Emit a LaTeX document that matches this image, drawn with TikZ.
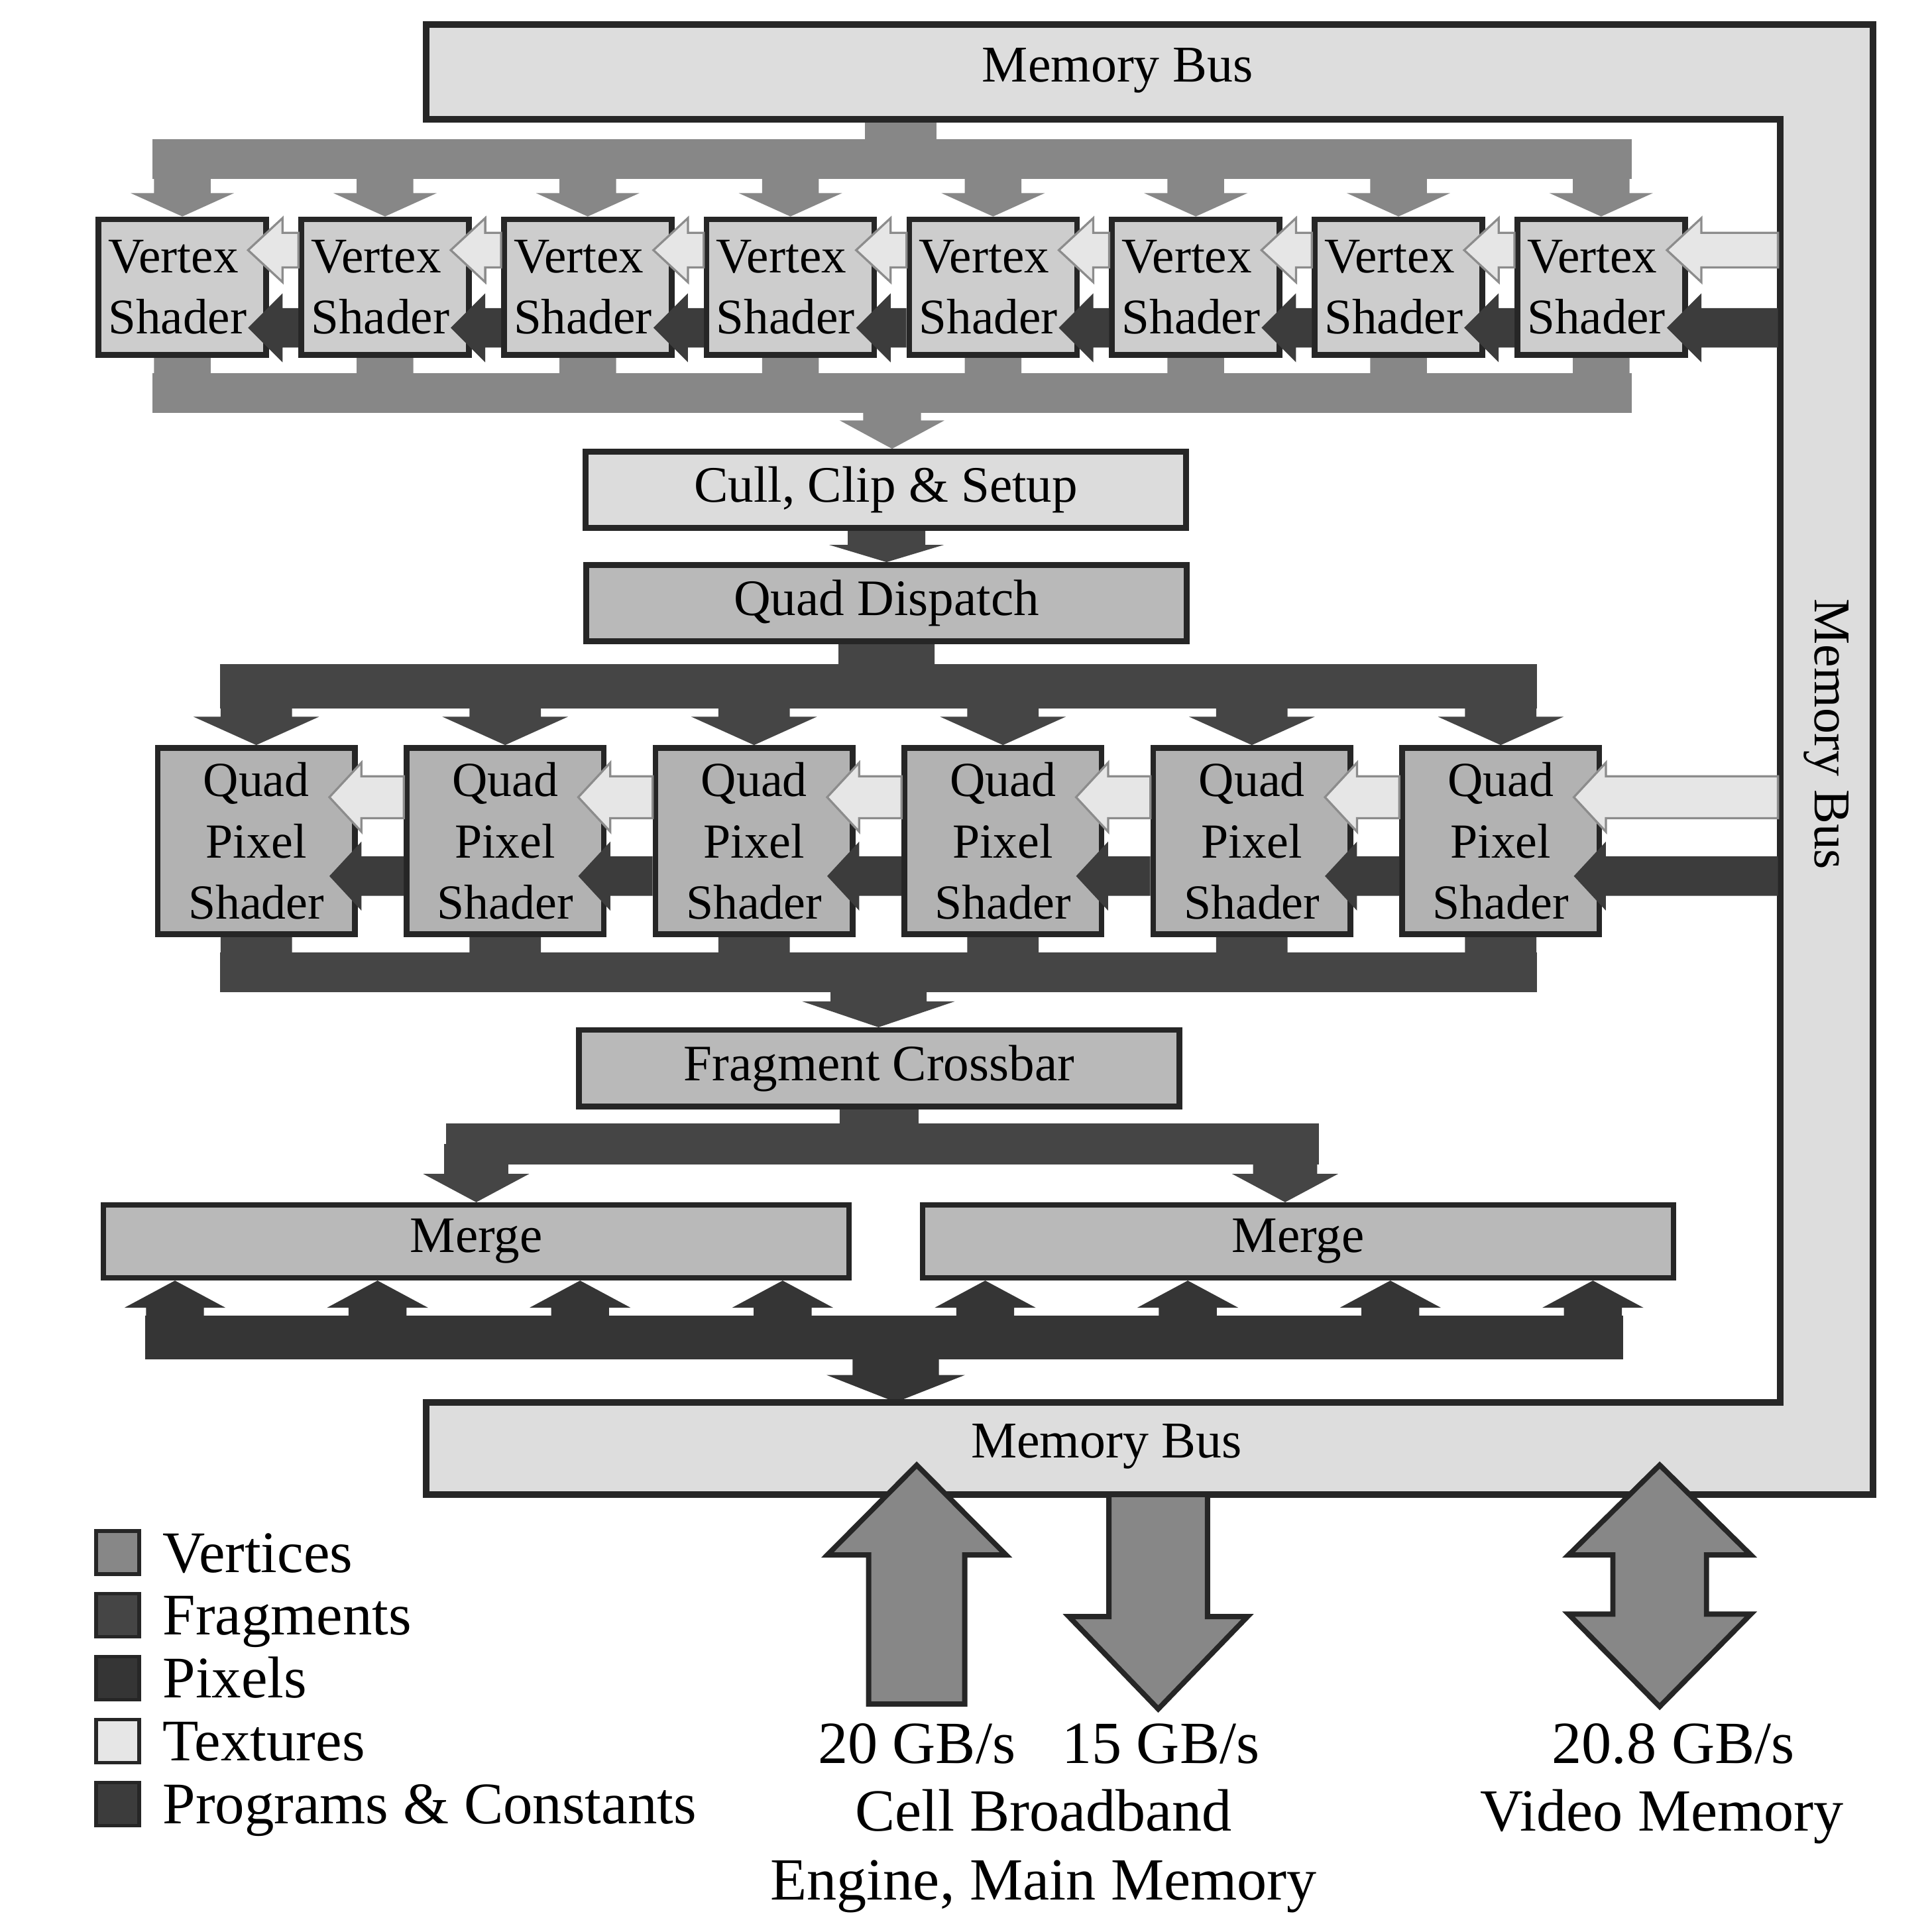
\documentclass[tikz,border=0pt]{standalone}
\usepackage{fontspec}
\setmainfont{Liberation Serif}
\usetikzlibrary{calc,positioning,backgrounds}

\definecolor{vertices}{HTML}{878787}
\definecolor{fragments}{HTML}{454545}
\definecolor{pixels}{HTML}{353535}
\definecolor{textures}{HTML}{E6E6E6}
\definecolor{programs}{HTML}{3C3C3C}
\definecolor{edge}{HTML}{262626}
\definecolor{busfill}{HTML}{DDDDDD}
\definecolor{vsfill}{HTML}{CDCDCD}
\definecolor{qsfill}{HTML}{B2B2B2}
\definecolor{cullfill}{HTML}{DCDCDC}
\definecolor{unitfill}{HTML}{B9B9B9}

% block arrows: [style]{tail}{tip}{shaft half}{head half}{head length}
\newcommand{\hblock}[6][]{%
  \path[#1] let \p1=(#2), \p2=(#3), \n1={sign(\x1-\x2)} in
    ({\x1},{\y2+#4*0.01cm}) -- ({\x2+(\n1)*#6*0.01cm},{\y2+#4*0.01cm})
    -- ({\x2+(\n1)*#6*0.01cm},{\y2+#5*0.01cm}) -- (\x2,\y2)
    -- ({\x2+(\n1)*#6*0.01cm},{\y2-#5*0.01cm}) -- ({\x2+(\n1)*#6*0.01cm},{\y2-#4*0.01cm})
    -- ({\x1},{\y2-#4*0.01cm}) -- cycle;}
\newcommand{\vblock}[6][]{%
  \path[#1] let \p1=(#2), \p2=(#3), \n1={sign(\y1-\y2)} in
    ({\x2+#4*0.01cm},{\y1}) -- ({\x2+#4*0.01cm},{\y2+(\n1)*#6*0.01cm})
    -- ({\x2+#5*0.01cm},{\y2+(\n1)*#6*0.01cm}) -- (\x2,\y2)
    -- ({\x2-#5*0.01cm},{\y2+(\n1)*#6*0.01cm}) -- ({\x2-#4*0.01cm},{\y2+(\n1)*#6*0.01cm})
    -- ({\x2-#4*0.01cm},{\y1}) -- cycle;}

\begin{document}
\begin{tikzpicture}[
    x=0.01cm, y=-0.01cm,
    unit/.style={draw=edge, line width=1.3pt, fill=unitfill, inner sep=0pt,
                 font=\fontsize{11.8}{14.2}\selectfont},
    vshader/.style={unit, fill=vsfill, minimum width=1.36cm, minimum height=1.10cm,
                    text width=1.2cm, align=left, inner xsep=0.08cm,
                    font=\fontsize{11.5}{14.2}\selectfont},
    qshader/.style={unit, fill=qsfill, minimum width=1.60cm, minimum height=1.51cm, align=center,
                    font=\fontsize{11.3}{14.2}\selectfont},
    wide/.style={unit, minimum width=4.87cm, minimum height=0.62cm},
    busbar/.style={inner sep=0pt, outer sep=0pt, draw=none},
    tex/.style={fill=textures, draw=black!45, line width=0.5pt},
    prog/.style={fill=programs},
    lbl/.style={inner sep=0pt, font=\fontsize{11.9}{14}\selectfont},
    legbox/.style={draw=edge, line width=0.8pt, minimum size=0.35cm, inner sep=0pt},
    legtext/.style={inner sep=0pt, font=\fontsize{13.6}{15}\selectfont},
    rate/.style={inner sep=0pt, font=\fontsize{13.8}{15.7}\selectfont},
    bigarrow/.style={fill=vertices, draw=edge, line width=1.2pt, line join=miter}
]
\useasboundingbox (0,0) rectangle (1568,1568);

% Memory bus
\filldraw[fill=busfill, draw=edge, line width=1.5pt]
  (346,20) -- (1520,20) -- (1520,1213) -- (346,1213) -- (346,1138)
  -- (1445,1138) -- (1445,97) -- (346,97) -- cycle;
\node[lbl] (mbtop) at (907,57) {Memory Bus};
\node[lbl] (mbbot) at (898,1174) {Memory Bus};
\node[lbl, rotate=-90] (mbside) at (1482,596) {Memory Bus};
\coordinate (mbin) at (1443,0);
\coordinate (mbtopin) at (731,97);
\coordinate (mbbotin) at (727,1138);

% Vertex shaders
\foreach \i in {1,...,8}
  \node[vshader] (vs\i) at ({148+164.5*(\i-1)},233) {Vertex\\Shader};

% Setup units
\node[wide, fill=cullfill] (cull) at (719,397.5) {Cull, Clip \& Setup};
\node[wide] (qdisp) at (719.5,489.5) {Quad Dispatch};

% Quad pixel shaders
\foreach \i in {1,...,6}
  \node[qshader] (qs\i) at ({208+202*(\i-1)},682.5) {Quad\\Pixel\\Shader};

% Crossbar and merge units
\node[wide] (xbar) at (713.5,867) {Fragment Crossbar};
\node[unit, minimum width=6.05cm, minimum height=0.59cm] (mg1) at (386.5,1007.5) {Merge};
\node[unit, minimum width=6.09cm, minimum height=0.59cm] (mg2) at (1053.5,1007.5) {Merge};

\begin{scope}[on background layer]
  % Vertex stream
  \node[busbar, fill=vertices, minimum width=12cm, minimum height=0.32cm] (vtop) at (724,129) {};
  \node[busbar, fill=vertices, minimum width=12cm, minimum height=0.32cm] (vbot) at (724,319) {};
  \vblock[fill=vertices]{mbtopin}{vtop.center -| mbtopin}{29}{29}{0}
  \foreach \i in {1,...,8} {
    \vblock[fill=vertices]{vtop.center -| vs\i}{vs\i.north}{23}{42}{19}
    \vblock[fill=vertices]{vbot.center -| vs\i}{vs\i.south}{23}{23}{0}
  }
  \vblock[fill=vertices]{vbot.center}{cull.north -| vbot}{23.5}{42.5}{23}

  % Fragment stream
  \vblock[fill=fragments]{cull.south}{qdisp.north}{31.5}{46.5}{14}
  \node[busbar, fill=fragments, minimum width=10.68cm, minimum height=0.36cm] (qtop) at (713,557) {};
  \node[busbar, fill=fragments, minimum width=10.68cm, minimum height=0.32cm] (qbot) at (713,789) {};
  \vblock[fill=fragments]{qdisp.south}{qtop.center -| qdisp}{39}{39}{0}
  \foreach \i in {1,...,6} {
    \vblock[fill=fragments]{qtop.center -| qs\i}{qs\i.north}{29}{51}{23}
    \vblock[fill=fragments]{qbot.center -| qs\i}{qs\i.south}{29}{29}{0}
  }
  \vblock[fill=fragments]{qbot.center}{xbar.north -| qbot}{39}{62}{21}
  \node[busbar, fill=fragments, minimum width=7.08cm, minimum height=0.33cm] (mdist) at (716,928.5) {};
  \vblock[fill=fragments]{xbar.south}{mdist.center -| xbar}{32}{32}{0}
  \vblock[fill=fragments]{mdist.center -| mg1}{mg1.north}{26}{43}{23}
  \vblock[fill=fragments]{mdist.center}{[xshift=-0.105cm]mg2.north}{26}{43}{23}

  % Pixel stream
  \node[busbar, fill=pixels, minimum width=11.99cm, minimum height=0.35cm] (pxbar) at (717.5,1085.5) {};
  \foreach \k in {0,...,7}
    \coordinate (px\k) at ({142+164.4*\k},1085.5);
  \foreach \k/\m in {0/1,1/1,2/1,3/1,4/2,5/2,6/2,7/2} {
    \vblock[fill=pixels]{px\k}{mg\m.south -| px\k}{23.5}{41}{22}
  }
  \vblock[fill=pixels]{pxbar.center}{mbbotin}{35}{56}{22}
\end{scope}

% Textures and programs into the vertex shaders
\foreach \i [evaluate=\i as \j using int(\i+1)] in {1,...,7} {
  \hblock[tex]{vs\j.west}{[xshift=-0.17cm,yshift=0.30cm]vs\i.east}{14}{26}{28}
  \hblock[prog]{vs\j.west}{[xshift=-0.17cm,yshift=-0.33cm]vs\i.east}{16}{28}{28}
}
\hblock[tex]{mbin}{[xshift=-0.17cm,yshift=0.30cm]vs8.east}{14}{26}{28}
\hblock[prog]{mbin}{[xshift=-0.17cm,yshift=-0.33cm]vs8.east}{16}{28}{28}

% Textures and programs into the pixel shaders
\foreach \i [evaluate=\i as \j using int(\i+1)] in {1,...,5} {
  \hblock[tex]{qs\j.west}{[xshift=-0.23cm,yshift=0.355cm]qs\i.east}{17}{28}{26}
  \hblock[prog]{qs\j.west}{[xshift=-0.23cm,yshift=-0.285cm]qs\i.east}{16}{28}{26}
}
\hblock[tex]{mbin}{[xshift=-0.23cm,yshift=0.355cm]qs6.east}{17}{28}{26}
\hblock[prog]{mbin}{[xshift=-0.23cm,yshift=-0.285cm]qs6.east}{16}{28}{26}

% External bandwidth
\coordinate (cbeup) at (744,1383);
\coordinate (cbeupend) at (744,1189);
\coordinate (cbedown) at (940,1213);
\coordinate (cbedownend) at (940,1387);
\coordinate (vmtop) at (1347,1189);
\coordinate (vmbot) at (1347,1385);
\vblock[bigarrow]{cbeup}{cbeupend}{39}{72.5}{73}
\vblock[bigarrow]{cbedown}{cbedownend}{40}{72.5}{75}
\filldraw[bigarrow] (vmtop) -- ++(74,73) -- ++(-36,0) -- ++(0,48) -- ++(36,0)
  -- (vmbot) -- ++(-74,-75) -- ++(36,0) -- ++(0,-48) -- ++(-36,0) -- cycle;

\node[rate, anchor=base] (r20) at (744,1431) {20 GB/s};
\node[rate, anchor=base] (r15) at (942,1431) {15 GB/s};
\node[rate, anchor=base] (cbe1) at (847,1486) {Cell Broadband};
\node[rate, anchor=base] (cbe2) at (847,1542) {Engine, Main Memory};
\node[rate, anchor=base] (r208) at (1358,1431) {20.8 GB/s};
\node[rate, anchor=base] (vmem) at (1349,1486) {Video Memory};

% Legend
\foreach \k/\col/\txt in {0/vertices/Vertices, 1/fragments/Fragments, 2/pixels/Pixels,
                          3/textures/Textures, 4/programs/Programs \& Constants} {
  \node[legbox, fill=\col] (leg\k) at (95.5,{1260+51*\k}) {};
  \node[legtext, anchor=base west] (legt\k) at ([xshift=0.17cm,yshift=0.03cm]leg\k.south east) {\txt};
}

\end{tikzpicture}
\end{document}
